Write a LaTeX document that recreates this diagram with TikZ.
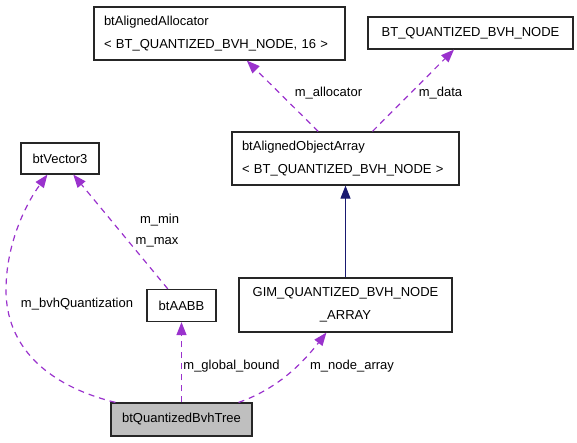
\documentclass[tikz,border=0pt]{standalone}
\usepackage{fontspec}
\setmainfont{Liberation Sans}
\usetikzlibrary{arrows.meta,calc}
\definecolor{edgepurple}{HTML}{9A32CD}
\definecolor{edgenavy}{HTML}{191970}
\definecolor{treefill}{HTML}{BFBFBF}
\begin{document}
\begin{tikzpicture}[x=1pt,y=-1pt,
  box/.style={draw=black!85, line width=1.2pt, inner sep=0pt, font=\fontsize{13}{22.5}\selectfont},
  lbl/.style={font=\fontsize{13}{15}\selectfont, inner sep=0pt, anchor=base},
  rel/.style={draw=edgepurple, line width=1.2pt, dash pattern=on 6pt off 5pt, -{Triangle[length=13pt,width=10pt,fill=edgepurple]}},
  inh/.style={draw=edgenavy, line width=1pt, -{Triangle[length=13pt,width=10pt,fill=edgenavy]}}]
\useasboundingbox (0,0) rectangle (577,443);
% nodes
\node[box, minimum height=53pt, text width=231pt, inner xsep=10pt, align=left] (alloc) at (219.5,33.5) {btAlignedAllocator\\{<} BT\_QUANTIZED\_BVH\_NODE, 16 {>}};
\node[box, minimum width=205pt, minimum height=32pt] (btq) at (470.5,33) {BT\_QUANTIZED\_BVH\_NODE};
\node[box, minimum height=53pt, text width=207pt, inner xsep=10pt, align=left] (arr) at (345.5,158.5) {btAlignedObjectArray\\{<} BT\_QUANTIZED\_BVH\_NODE {>}};
\node[box, minimum width=78pt, minimum height=31pt] (vec) at (60,158.5) {btVector3};
\node[box, minimum width=69pt, minimum height=32pt] (aabb) at (181.5,305.5) {btAABB};
\node[box, minimum width=213pt, minimum height=54pt, align=center] (gim) at (345.5,305) {GIM\_QUANTIZED\_BVH\_NODE\\\_ARRAY};
\node[box, fill=treefill, minimum width=141pt, minimum height=33pt] (tree) at (181.5,419.5) {btQuantizedBvhTree};
% edges
\draw[rel] (arr) -- (alloc);
\draw[rel] (arr) -- (btq);
\draw[inh] (gim) -- (arr);
\draw[rel] (aabb) -- (vec);
\draw[rel] (tree) -- (aabb);
\draw[rel] ($(tree.north west)+(5,0)$) .. controls (45,385) and (6,345) .. (6,290) .. controls (6,245) and (25,205) .. ($(vec.south west)+(27,0)$);
\draw[rel] ($(tree.north east)+(-14,0)$) .. controls (280,388) and (305,360) .. ($(gim.south west)+(88,0)$);
% labels
\node[lbl] (lalloc) at (328.5,97) {m\_allocator};
\node[lbl] (ldata) at (440.5,97) {m\_data};
\node[lbl] (lmin) at (159.5,223.5) {m\_min};
\node[lbl] (lmax) at (157,244.5) {m\_max};
\node[lbl] (lbvh) at (77,307.5) {m\_bvhQuantization};
\node[lbl] (lglob) at (231.5,369.5) {m\_global\_bound};
\node[lbl] (lnode) at (352,369.5) {m\_node\_array};
\end{tikzpicture}
\end{document}
